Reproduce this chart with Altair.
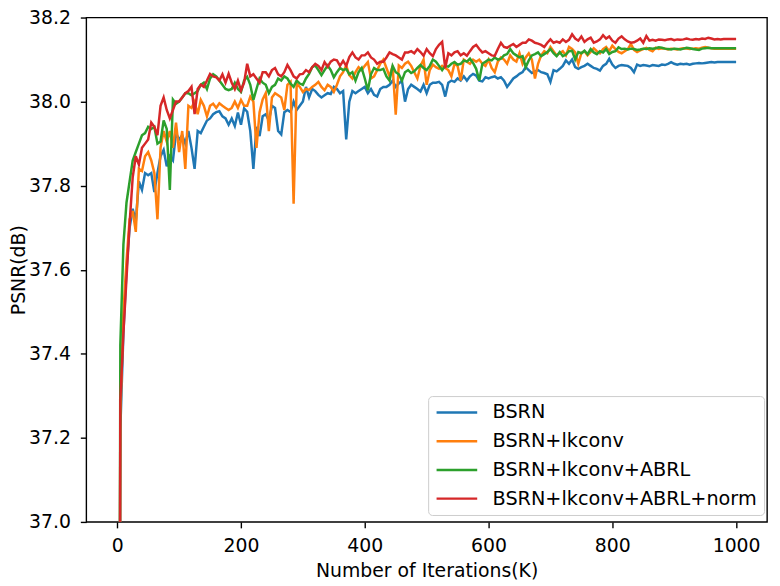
import altair as alt
import pandas as pd

# x positions (K iterations), one value every 5K
iters = list(range(0, 1001, 5))

series_names = ["BSRN", "BSRN+lkconv", "BSRN+lkconv+ABRL", "BSRN+lkconv+ABRL+norm"]
series_colors = ["#1f77b4", "#ff7f0e", "#2ca02c", "#d62728"]

bsrn = [
    34.0, 37.22, 37.45, 37.60, 37.70, 37.745, 37.715, 37.81, 37.79, 37.83,
    37.825, 37.83, 37.785, 37.83, 37.87, 37.885, 37.846, 37.87, 37.86, 37.925,
    37.91, 37.92, 37.90, 37.93, 37.89, 37.84, 37.93, 37.925, 37.94, 37.955,
    37.96, 37.97, 37.975, 37.977, 37.965, 37.96, 37.945, 37.96, 37.942, 37.974,
    37.945, 37.984, 37.976, 37.93, 37.84, 37.94, 37.918, 37.965, 37.97, 37.955,
    37.99, 37.985, 37.93, 37.922, 37.975, 37.98, 37.975, 38.0, 37.98, 37.99,
    38.0, 38.035, 38.01, 38.03, 38.025, 38.016, 38.01, 38.015, 38.02, 38.018,
    38.035, 38.03, 38.02, 38.025, 37.91, 38.0, 38.025, 38.02, 38.025, 38.03,
    38.035, 38.02, 38.03, 38.016, 38.012, 38.03, 38.035, 38.035, 38.04, 38.05,
    38.035, 38.043, 38.05, 38.0, 38.03, 38.04, 38.035, 38.03, 38.024, 38.04,
    38.02, 38.04, 38.045, 38.045, 38.047, 38.04, 38.012, 38.045, 38.05, 38.047,
    38.055, 38.05, 38.06, 38.05, 38.06, 38.066, 38.062, 38.05, 38.048, 38.058,
    38.055, 38.058, 38.06, 38.055, 38.058, 38.05, 38.035, 38.045, 38.055, 38.06,
    38.066, 38.07, 38.082, 38.075, 38.068, 38.072, 38.075, 38.07, 38.068, 38.065,
    38.047, 38.075, 38.072, 38.078, 38.085, 38.098, 38.09, 38.1, 38.082, 38.078,
    38.082, 38.085, 38.09, 38.085, 38.08, 38.078, 38.074, 38.085, 38.09, 38.102,
    38.088, 38.08, 38.085, 38.087, 38.086, 38.085, 38.08, 38.07, 38.088, 38.085,
    38.087, 38.086, 38.084, 38.087, 38.086, 38.085, 38.088, 38.087, 38.09, 38.094,
    38.09, 38.088, 38.09, 38.089, 38.09, 38.088, 38.09, 38.091, 38.092, 38.091,
    38.092, 38.093, 38.094, 38.093, 38.094, 38.094, 38.094, 38.094, 38.094, 38.094,
    38.094,
]

lkconv = [
    34.0, 37.25, 37.50, 37.62, 37.72, 37.74, 37.69, 37.84, 37.835, 37.87,
    37.88, 37.86, 37.83, 37.72, 37.89, 37.93, 37.905, 37.93, 37.89, 37.95,
    37.88, 37.93, 37.84, 37.99, 37.985, 38.0, 37.97, 38.004, 37.99, 37.965,
    37.99, 37.995, 37.985, 37.996, 37.99, 37.985, 37.98, 37.985, 38.0, 37.985,
    38.004, 37.99, 37.99, 38.012, 38.0, 37.89, 37.975, 38.005, 38.02, 37.93,
    38.01, 38.02, 38.015, 38.01, 37.98, 38.04, 38.047, 37.757, 38.043, 38.035,
    38.023, 38.03, 38.028, 38.035, 38.04, 38.047, 38.035, 38.027, 38.04, 38.035,
    38.023, 38.04, 38.06, 38.07, 38.086, 38.063, 38.055, 38.07, 38.082, 38.075,
    38.085, 38.094, 38.055, 38.06, 38.075, 38.09, 38.1, 38.08, 38.06, 38.085,
    37.969, 38.086, 38.08, 38.09, 38.095, 38.085, 38.07, 38.055, 38.085, 38.1,
    38.04, 38.075, 38.088, 38.082, 38.078, 38.085, 38.08, 38.075, 38.06, 38.09,
    38.085, 38.05, 38.1, 38.095, 38.09, 38.1, 38.095, 38.1, 38.09, 38.085,
    38.1, 38.08, 38.07, 38.095, 38.105, 38.1, 38.09, 38.11, 38.1, 38.095,
    38.115, 38.09, 38.105, 38.115, 38.1, 38.055, 38.09, 38.11, 38.12, 38.115,
    38.13, 38.12, 38.11, 38.115, 38.12, 38.11, 38.13, 38.125, 38.117, 38.09,
    38.115, 38.12, 38.11, 38.118, 38.127, 38.12, 38.115, 38.125, 38.13, 38.12,
    38.133, 38.125, 38.118, 38.115, 38.12, 38.125, 38.137, 38.123, 38.118, 38.122,
    38.125, 38.128, 38.123, 38.12, 38.128, 38.125, 38.127, 38.126, 38.124, 38.126,
    38.125, 38.124, 38.126, 38.127, 38.126, 38.125, 38.126, 38.127, 38.126, 38.128,
    38.13, 38.128, 38.127, 38.126, 38.126, 38.126, 38.126, 38.126, 38.126, 38.126,
    38.126,
]

abrl = [
    34.0, 37.42, 37.66, 37.76, 37.81, 37.86, 37.88, 37.90, 37.92, 37.925,
    37.94, 37.935, 37.94, 37.90, 37.905, 37.955, 37.935, 37.79, 38.005, 37.995,
    38.0, 38.01, 38.02, 38.02, 38.015, 38.02, 38.025, 38.04, 38.045, 38.03,
    38.055, 38.065, 38.06, 38.05, 38.04, 38.03, 38.027, 38.03, 38.045, 38.03,
    38.023, 38.05, 38.059, 38.04, 38.004, 38.03, 38.055, 38.045, 38.04, 38.02,
    38.035, 38.04, 38.055, 38.05, 38.06, 38.055, 38.043, 38.035, 38.05, 38.043,
    38.04, 38.055, 38.066, 38.082, 38.086, 38.075, 38.063, 38.075, 38.086, 38.075,
    38.058, 38.07, 38.08, 38.075, 38.078, 38.065, 38.07, 38.05, 38.07, 38.08,
    38.055, 38.027, 38.065, 38.08, 38.075, 38.075, 38.078, 38.06, 38.05, 38.085,
    38.07, 38.065, 38.05, 38.07, 38.075, 38.068, 38.072, 38.08, 38.087, 38.08,
    38.075, 38.085, 38.1, 38.095, 38.085, 38.075, 38.085, 38.083, 38.09, 38.094,
    38.088, 38.09, 38.098, 38.095, 38.102, 38.092, 38.078, 38.05, 38.09, 38.095,
    38.1, 38.098, 38.105, 38.1, 38.102, 38.11, 38.113, 38.125, 38.115, 38.11,
    38.105, 38.108, 38.082, 38.098, 38.11, 38.113, 38.117, 38.108, 38.113, 38.118,
    38.125, 38.115, 38.108, 38.118, 38.108, 38.112, 38.12, 38.121, 38.1, 38.118,
    38.115, 38.121, 38.113, 38.125, 38.117, 38.113, 38.12, 38.117, 38.125, 38.113,
    38.118, 38.12, 38.129, 38.125, 38.126, 38.124, 38.126, 38.125, 38.123, 38.124,
    38.126, 38.125, 38.127, 38.126, 38.127, 38.129, 38.128, 38.126, 38.125, 38.124,
    38.126, 38.125, 38.124, 38.126, 38.128, 38.127, 38.125, 38.124, 38.123, 38.126,
    38.127, 38.128, 38.127, 38.127, 38.127, 38.127, 38.127, 38.127, 38.127, 38.127,
    38.127,
]

norm = [
    34.0, 37.29, 37.45, 37.58, 37.71, 37.82, 37.87, 37.85, 37.89, 37.90,
    37.91, 37.95, 37.94, 37.92, 37.99, 38.01, 37.98, 37.96, 37.98, 38.0,
    38.0, 38.01, 38.02, 38.025, 38.035, 37.97, 38.03, 38.04, 38.035, 38.05,
    38.066, 38.06, 38.058, 38.05, 38.065, 38.045, 38.066, 38.045, 38.03, 38.05,
    38.027, 38.045, 38.09, 38.06, 38.065, 38.055, 38.045, 38.07, 38.07, 38.06,
    38.075, 38.08, 38.065, 38.06, 38.07, 38.087, 38.075, 38.06, 38.055, 38.065,
    38.066, 38.075, 38.07, 38.082, 38.09, 38.085, 38.075, 38.094, 38.083, 38.095,
    38.1, 38.098, 38.085, 38.097, 38.085, 38.106, 38.117, 38.105, 38.1, 38.11,
    38.11, 38.117, 38.105, 38.1, 38.09, 38.095, 38.095, 38.105, 38.117, 38.113,
    38.11, 38.105, 38.1, 38.117, 38.117, 38.12, 38.115, 38.125, 38.118, 38.109,
    38.125, 38.115, 38.108, 38.125, 38.135, 38.142, 38.08, 38.115, 38.11, 38.117,
    38.12, 38.11, 38.115, 38.109, 38.12, 38.13, 38.135, 38.125, 38.117, 38.12,
    38.115, 38.11, 38.109, 38.125, 38.14, 38.13, 38.128, 38.133, 38.137, 38.13,
    38.135, 38.14, 38.14, 38.148, 38.145, 38.14, 38.138, 38.135, 38.13, 38.14,
    38.148, 38.14, 38.143, 38.14, 38.148, 38.142, 38.147, 38.16, 38.15, 38.145,
    38.155, 38.142, 38.148, 38.152, 38.14, 38.143, 38.148, 38.158, 38.15, 38.155,
    38.145, 38.14, 38.15, 38.155, 38.148, 38.143, 38.14, 38.141, 38.145, 38.15,
    38.14, 38.156, 38.145, 38.147, 38.145, 38.148, 38.147, 38.146, 38.148, 38.149,
    38.146, 38.148, 38.147, 38.148, 38.15, 38.148, 38.147, 38.149, 38.148, 38.15,
    38.149, 38.152, 38.15, 38.148, 38.149, 38.148, 38.149, 38.149, 38.149, 38.149,
    38.149,
]

x_ticks = [0, 200, 400, 600, 800, 1000]
y_ticks = [37.0, 37.2, 37.4, 37.6, 37.8, 38.0, 38.2]

rows = []
for name, vals in zip(series_names, [bsrn, lkconv, abrl, norm]):
    for k, v in zip(iters, vals):
        rows.append({"iter": k, "psnr": v, "model": name})
df = pd.DataFrame(rows)

FONT = "DejaVu Sans"

chart = alt.Chart(df).mark_line(strokeWidth=2.5, clip=True).encode(
    x=alt.X("iter:Q",
            scale=alt.Scale(domain=[-50, 1050], nice=False, zero=False),
            axis=alt.Axis(values=x_ticks, format="d",
                          title="Number of Iterations(K)",
                          labelPadding=9, titleBaseline="alphabetic", titleY=55,
                          titleX=343.5)),
    y=alt.Y("psnr:Q",
            scale=alt.Scale(domain=[37.0, 38.2], nice=False, zero=False),
            axis=alt.Axis(values=y_ticks, format=".1f", title="PSNR(dB)",
                          labelPadding=10, titleBaseline="alphabetic",
                          titleX=-62, titleY=254.5, titleAngle=-90)),
    color=alt.Color("model:N",
                    scale=alt.Scale(domain=series_names, range=series_colors),
                    sort=series_names,
                    legend=alt.Legend(title=None, orient="none",
                                      legendX=345, legendY=382,
                                      symbolType="stroke", symbolSize=1681,
                                      symbolStrokeWidth=2.5,
                                      labelFontSize=19.4, labelFont=FONT,
                                      labelLimit=500, labelOffset=14,
                                      clipHeight=19, rowPadding=9, padding=7,
                                      strokeColor="#cccccc", cornerRadius=4,
                                      fillColor="rgba(255,255,255,0.8)")),
    order=alt.Order("iter:Q"),
).properties(
    width=687, height=509,
    autosize=alt.AutoSizeParams(type="none"),
    padding={"left": 79, "top": 7, "right": 5, "bottom": 58},
).configure_view(
    stroke="black", strokeWidth=1.4,
).configure_axis(
    grid=False, domain=False, ticks=True, tickColor="black", tickSize=6,
    tickWidth=1.4, labelFont=FONT, labelFontSize=19, labelColor="black",
    titleFont=FONT, titleFontSize=19, titleFontWeight="normal",
    titleColor="black",
)

chart.save("out.html", embed_options={"renderer": "svg", "actions": False})
